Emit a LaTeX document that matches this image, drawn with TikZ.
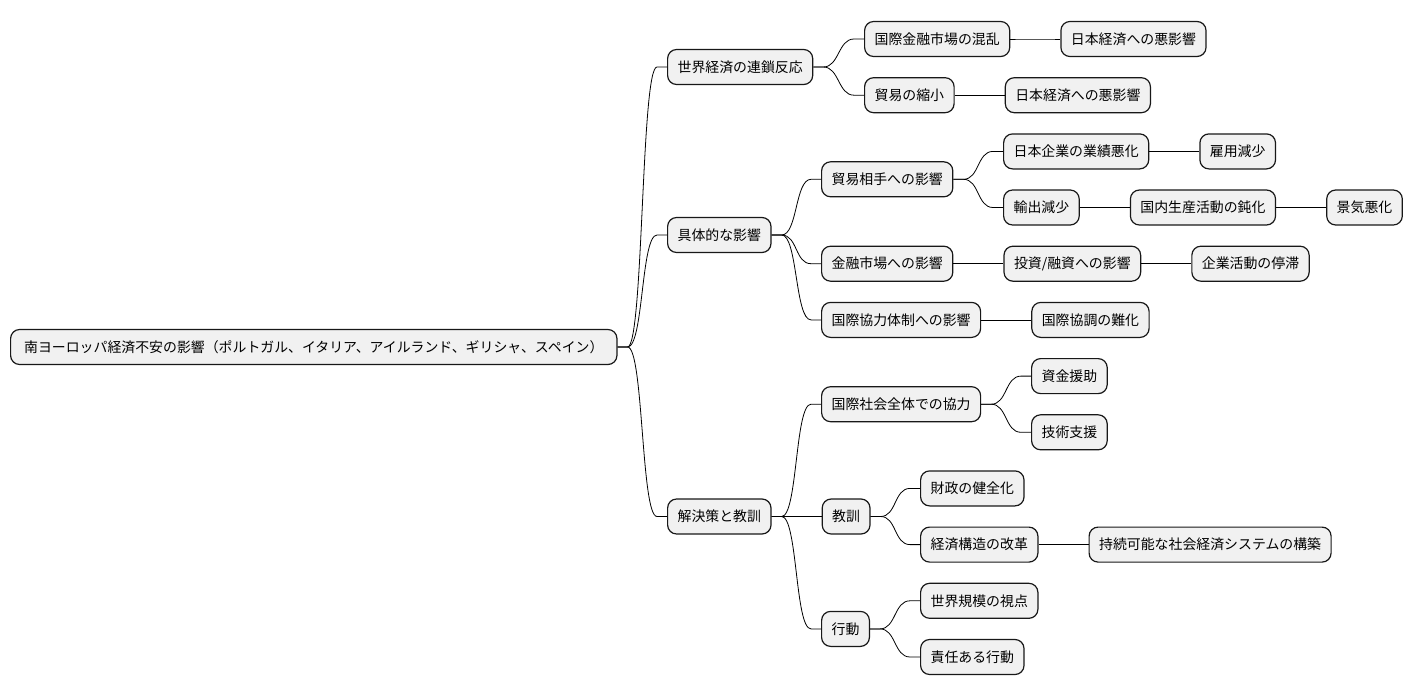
\documentclass[tikz,border=0pt]{standalone}
\usepackage{fontspec}
\newfontfamily\jp{Noto Sans CJK JP}
\usetikzlibrary{positioning}
\definecolor{boxgray}{HTML}{F1F1F1}
\definecolor{edgegray}{HTML}{181818}

\tikzset{
  topic/.style={draw=edgegray, line width=1.2pt, fill=boxgray, rounded corners=9pt,
    inner xsep=10pt, inner ysep=0pt, minimum height=35pt, anchor=west,
    font=\jp\fontsize{13.9}{16}\selectfont},
  branch/.style={draw=black, line width=0.8pt,
    to path={-- ++(10,0) .. controls +(16,0) and +(-16,0) .. ([xshift=-10pt]\tikztotarget) -- (\tikztotarget)}}
}

\begin{document}
\begin{tikzpicture}[x=1pt, y=-1pt, node distance=50pt]
  \useasboundingbox (0,0) rectangle (1412,696);

  % root
  \node[topic, inner xsep=13.5pt] (root) at (10,347) {南ヨーロッパ経済不安の影響（ポルトガル、イタリア、アイルランド、ギリシャ、スペイン）};

  % first level
  \node[topic] (w) at (667,67) {世界経済の連鎖反応};
  \node[topic] (g) at (667,235) {具体的な影響};
  \node[topic] (k) at (667,516.5) {解決策と教訓};

  % world economy
  \node[topic] (w1) at (864,39) {国際金融市場の混乱};
  \node[topic, right=of w1] (w11) {日本経済への悪影響};
  \node[topic] (w2) at (864,95.2) {貿易の縮小};
  \node[topic, right=of w2] (w21) {日本経済への悪影響};

  % concrete effects
  \node[topic] (g1) at (821,179.3) {貿易相手への影響};
  \node[topic] (g11) at (1003,151.4) {日本企業の業績悪化};
  \node[topic, right=of g11] (g111) {雇用減少};
  \node[topic] (g12) at (1003,207.5) {輸出減少};
  \node[topic, right=of g12] (g121) {国内生産活動の鈍化};
  \node[topic, right=of g121] (g1211) {景気悪化};
  \node[topic] (g2) at (821,263.7) {金融市場への影響};
  \node[topic, right=of g2] (g21) {投資/融資への影響};
  \node[topic, right=of g21] (g211) {企業活動の停滞};
  \node[topic] (g3) at (821,319.9) {国際協力体制への影響};
  \node[topic, right=of g3] (g31) {国際協調の難化};

  % solutions and lessons
  \node[topic] (k1) at (821,404.2) {国際社会全体での協力};
  \node[topic] (k11) at (1031,376.1) {資金援助};
  \node[topic] (k12) at (1031,432.3) {技術支援};
  \node[topic, right=of k] (k2) {教訓};
  \node[topic] (k21) at (920,488.4) {財政の健全化};
  \node[topic] (k22) at (920,544.6) {経済構造の改革};
  \node[topic, right=of k22] (k221) {持続可能な社会経済システムの構築};
  \node[topic] (k3) at (821,628.9) {行動};
  \node[topic] (k31) at (920,600.8) {世界規模の視点};
  \node[topic] (k32) at (920,657) {責任ある行動};

  % branches
  \foreach \a/\b in {root/w, root/g, root/k, w/w1, w/w2, w1/w11, w2/w21,
      g/g1, g/g2, g/g3, g1/g11, g1/g12, g11/g111, g12/g121, g121/g1211,
      g2/g21, g21/g211, g3/g31, k/k1, k/k2, k/k3, k1/k11, k1/k12,
      k2/k21, k2/k22, k22/k221, k3/k31, k3/k32}
    \draw[branch] (\a.east) to (\b.west);

\end{tikzpicture}
\end{document}
